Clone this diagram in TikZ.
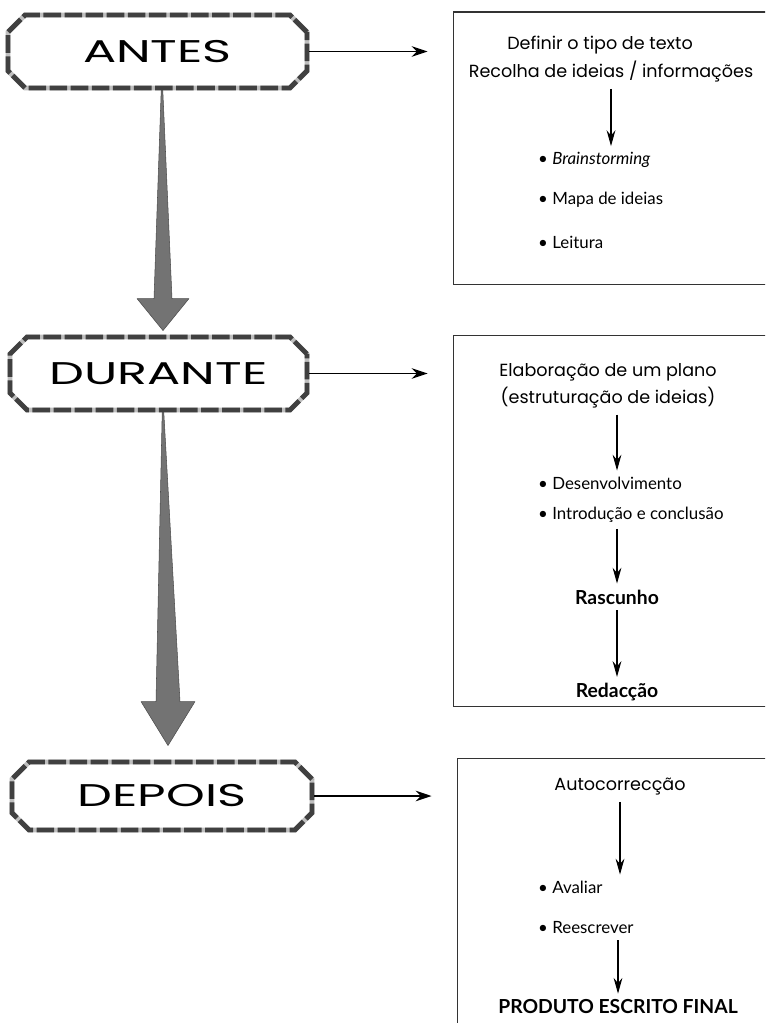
\documentclass[tikz,border=0pt]{standalone}
\usepackage{fontspec}
\setmainfont{Lato}
\newfontfamily\geofont{Poppins}
\usetikzlibrary{arrows.meta,calc,shapes.misc}
\newcommand{\stagetext}[1]{\scalebox{1.65}[1.05]{#1}}
% #1 top, #2 tip, #3 shaft half width, #4 head half width, #5 head length
\newcommand{\bigarrow}[5]{\filldraw[bigarrow] ($(#1)+(-0.8,0)$) -- ($(#2)+(-#3,-#5)$) -- ($(#2)+(-#4,-#5)$) -- (#2) -- ($(#2)+(#4,-#5)$) -- ($(#2)+(#3,-#5)$) -- ($(#1)+(0.8,0)$) -- cycle;}

\tikzset{
  stage/.style={chamfered rectangle, chamfered rectangle xsep=0.3cm, inner sep=0pt,
    draw=black!75, line width=2.8pt, dash pattern=on 10pt off 2pt,
    preaction={draw=black!25, line width=2.8pt, solid},
    font=\geofont\fontsize{17}{17}\selectfont},
  panel/.style={draw=black!80, line width=0.6pt, inner sep=0pt},
  link/.style={-{Stealth[length=9pt,width=6pt,inset=3pt]}, line width=0.7pt, shorten >=0.5cm},
  flow/.style={-{Stealth[length=9pt,width=5pt,inset=3pt]}, line width=0.6pt},
  head/.style={font=\geofont\fontsize{10}{12}\selectfont},
  item/.style={anchor=west, font=\fontsize{9.6}{12}\selectfont},
  result/.style={font=\bfseries\fontsize{11}{13}\selectfont},
  bigarrow/.style={fill=black!55, draw=black!70, line width=0.3pt, line join=round}
}

\begin{document}
\begin{tikzpicture}[x=0.02cm, y=-0.02cm]
	\useasboundingbox (0,0) rectangle (765,1023);
	\clip (0,0) rectangle (765,1023);
	
	%%%%% stages %%%%%
	\node[stage, minimum width=5.98cm, minimum height=1.46cm] (antes) at (157.5,51.5) {\stagetext{ANTES}};
	\node[stage, minimum width=5.94cm, minimum height=1.46cm] (durante) at (158.5,373.5) {\stagetext{DURANTE}};
	\node[stage, minimum width=6cm, minimum height=1.36cm] (depois) at (162,796) {\stagetext{DEPOIS}};
	
	\coordinate (topA) at ([xshift=0.09cm]antes.south);
	\coordinate (tipA) at ([xshift=0.09cm, yshift=0.08cm]durante.north);
	\coordinate (topB) at ([xshift=0.09cm]durante.south);
	\coordinate (tipB) at ([xshift=0.12cm, yshift=0.28cm]depois.north);
	\bigarrow{topA}{tipA}{9}{26}{32}
	\bigarrow{topB}{tipB}{12}{27}{44}
	
	%%%%% panels %%%%%
	\node[panel, minimum width=6.94cm, minimum height=5.46cm] (planA) at (626.5,148.5) {};
	\node[panel, minimum width=6.94cm, minimum height=7.44cm] (planB) at (626.5,521) {};
	\node[panel, minimum width=6.86cm, minimum height=5.64cm] (planC) at (628.5,899) {};
	
	\draw[link] (antes.east) -- (antes.east -| planA.west);
	\draw[link] (durante.east) -- (durante.east -| planB.west);
	\draw[link] (depois.east) -- (depois.east -| planC.west);
	
	%%%%% antes %%%%%
	\node[head] (definir) at (600,45) {Definir o tipo de texto};
	\node[head] (recolha) at (611,72) {Recolha de ideias / informações};
	\node[item] (brain) at (532,160) {\textbullet\ \textit{Brainstorming}};
	\node[item] (mapa) at (532,200) {\textbullet\ Mapa de ideias};
	\node[item] (leitura) at (532,242) {\textbullet\ Leitura};
	\draw[flow] (recolha.south) -- (recolha.south |- brain.north);
	
	%%%%% durante %%%%%
	\node[head] (elab) at (608,372) {Elaboração de um plano};
	\node[head] (estrut) at (608,398) {(estruturação de ideias)};
	\node[item] (desenv) at (532,483) {\textbullet\ Desenvolvimento};
	\node[item] (intro) at (532,515) {\textbullet\ Introdução e conclusão};
	\node[result] (rascunho) at (617,597) {Rascunho};
	\node[result] (redaccao) at (617,692) {Redacção};
	\draw[flow] (estrut.south -| rascunho) -- (desenv.north -| rascunho);
	\draw[flow] (intro.south -| rascunho) -- (rascunho.north);
	\draw[flow] (rascunho) -- (redaccao);
	
	%%%%% depois %%%%%
	\node[head] (autoc) at (620,787) {Autocorrecção};
	\node[item] (avaliar) at (532,887) {\textbullet\ Avaliar};
	\node[item] (reesc) at (532,928) {\textbullet\ Reescrever};
	\node[result] (produto) at (618,1007) {PRODUTO ESCRITO FINAL};
	\draw[flow] (autoc.south) -- (autoc.south |- avaliar.north);
	\draw[flow] (reesc.south -| produto) -- (produto.north);
\end{tikzpicture}
\end{document}
